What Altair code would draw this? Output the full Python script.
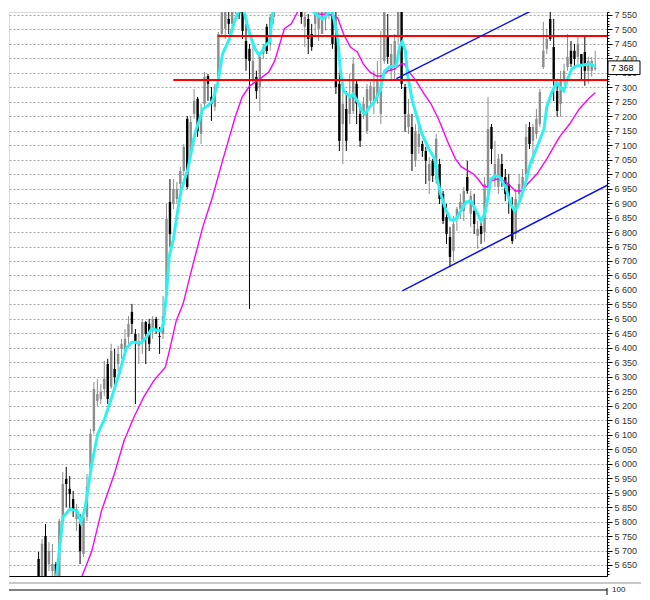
import altair as alt
import pandas as pd

# ---------------- data ----------------
opens = [5671, 5612, 5750, 5653, 5629, 5653, 5612, 5802, 5947, 5913,
         5878, 5809, 5792, 5688, 5816, 5982, 6113, 6217, 6223, 6258,
         6344, 6265, 6327, 6344, 6396, 6389, 6438, 6524, 6448, 6407,
         6424, 6489, 6483, 6465, 6500, 6441, 6448, 6586, 6904, 6897,
         6914, 6966, 7011, 7191, 7070, 7208, 7260, 7139, 7243, 7339,
         7267, 7232, 7322, 7484, 7502, 7536, 7519, 7588, 7640, 7588,
         7460, 7433, 7322, 7336, 7301, 7415, 7509, 7450, 7543, 7623,
         7692, 7657, 7743, 7674, 7692, 7605, 7640, 7509, 7536, 7484,
         7519, 7502, 7484, 7536, 7553, 7623, 7474, 7312, 7173, 7225,
         7208, 7218, 7312, 7208, 7208, 7149, 7253, 7243, 7267, 7208,
         7391, 7474, 7357, 7370, 7474, 7588, 7301, 7163, 7163, 7046,
         7094, 7104, 7080, 6977, 7046, 6983, 7035, 6932, 6852, 6783,
         6735, 6845, 6880, 6873, 6990, 6863, 6873, 6787, 6821, 6800,
         6956, 7163, 6983, 6956, 7035, 6990, 6966, 6887, 6793, 6932,
         6942, 7001, 7163, 7115, 7139, 7173, 7370, 7433, 7536, 7439,
         7287, 7243, 7322, 7370, 7426, 7426, 7405, 7415, 7422, 7357,
         7357, 7363]
highs = [5695, 5740, 5792, 5729, 5723, 5660, 5809, 5971, 5989, 5957,
         5906, 5861, 5826, 5843, 5964, 6120, 6282, 6293, 6275, 6355,
         6362, 6414, 6396, 6407, 6431, 6465, 6510, 6552, 6465, 6448,
         6500, 6493, 6500, 6510, 6507, 6472, 6579, 6897, 6983, 6983,
         6973, 7025, 7104, 7201, 7201, 7294, 7267, 7243, 7353, 7346,
         7301, 7312, 7491, 7588, 7623, 7588, 7657, 7692, 7674, 7605,
         7519, 7450, 7450, 7357, 7415, 7450, 7519, 7553, 7657, 7726,
         7743, 7778, 7761, 7726, 7726, 7692, 7674, 7571, 7553, 7519,
         7571, 7588, 7605, 7640, 7657, 7657, 7588, 7357, 7312, 7287,
         7346, 7405, 7322, 7243, 7267, 7312, 7319, 7357, 7391, 7495,
         7657, 7553, 7450, 7484, 7726, 7657, 7312, 7260, 7208, 7173,
         7173, 7115, 7094, 7059, 7053, 7139, 7053, 6942, 6897, 6818,
         6856, 6887, 6932, 6956, 7046, 6942, 6932, 6838, 6838, 6990,
         7267, 7173, 7115, 7070, 7070, 7018, 7001, 6921, 6949, 7001,
         7018, 7173, 7180, 7173, 7225, 7294, 7526, 7502, 7623, 7536,
         7329, 7357, 7381, 7484, 7460, 7450, 7474, 7415, 7474, 7405,
         7405, 7426]
lows = [5591, 5591, 5591, 5629, 5609, 5591, 5602, 5792, 5850, 5837,
        5816, 5767, 5653, 5678, 5802, 5964, 6103, 6199, 6206, 6234,
        6206, 6258, 6258, 6317, 6362, 6372, 6414, 6448, 6206, 6344,
        6379, 6344, 6389, 6431, 6448, 6379, 6431, 6569, 6749, 6880,
        6897, 6942, 6994, 6949, 7070, 7191, 7129, 7104, 7225, 7253,
        7184, 7218, 7312, 7474, 7467, 7484, 7502, 7553, 7536, 7467,
        7357, 6534, 7312, 7260, 7218, 7398, 7415, 7426, 7519, 7605,
        7588, 7640, 7623, 7640, 7571, 7560, 7519, 7439, 7415, 7426,
        7474, 7460, 7484, 7495, 7536, 7433, 7277, 7080, 7035, 7080,
        7173, 7208, 7173, 7094, 7191, 7139, 7243, 7208, 7243, 7173,
        7381, 7381, 7329, 7322, 7450, 7294, 7146, 7139, 7011, 7025,
        7070, 7059, 6966, 6932, 6973, 6966, 6897, 6828, 6759, 6679,
        6700, 6804, 6845, 6838, 6932, 6818, 6793, 6742, 6759, 6766,
        6921, 7035, 6956, 6932, 6956, 6907, 6863, 6759, 6776, 6914,
        6932, 6983, 7087, 7035, 7122, 7163, 7363, 7415, 7460, 7253,
        7198, 7198, 7312, 7357, 7370, 7363, 7381, 7322, 7305, 7312,
        7336, 7357]
closes = [5612, 5723, 5612, 5698, 5653, 5612, 5802, 5930, 5930, 5895,
          5843, 5843, 5698, 5816, 5920, 6103, 6258, 6241, 6248, 6293,
          6223, 6389, 6299, 6379, 6414, 6431, 6483, 6483, 6424, 6424,
          6489, 6448, 6414, 6500, 6465, 6438, 6510, 6845, 6793, 6949,
          6949, 7011, 7094, 6956, 7180, 7253, 7149, 7208, 7336, 7312,
          7243, 7301, 7484, 7578, 7571, 7519, 7605, 7640, 7553, 7495,
          7398, 7391, 7391, 7287, 7405, 7439, 7426, 7543, 7623, 7692,
          7657, 7743, 7674, 7692, 7605, 7657, 7543, 7543, 7467, 7439,
          7553, 7547, 7564, 7605, 7616, 7450, 7301, 7115, 7243, 7115,
          7267, 7381, 7243, 7115, 7243, 7294, 7305, 7301, 7322, 7287,
          7588, 7405, 7415, 7460, 7623, 7312, 7208, 7208, 7070, 7149,
          7139, 7080, 7046, 7035, 6994, 7122, 6914, 6838, 6793, 6714,
          6828, 6880, 6904, 6942, 6942, 6925, 6828, 6811, 6793, 6966,
          7156, 7087, 7035, 7053, 6990, 6932, 6921, 6769, 6914, 6966,
          6990, 7129, 7104, 7163, 7191, 7284, 7426, 7467, 7467, 7322,
          7218, 7322, 7357, 7405, 7381, 7398, 7450, 7381, 7357, 7391,
          7391, 7368]

# short moving average (cyan): bar position, price
fast_i = [5.1, 7.1, 9.1, 11.1, 12.2, 13.4, 15.4, 17.1, 19.1, 21.0, 23.3, 25.3, 27.0, 29.6,
          31.3, 32.7, 35.3, 36.1, 37.0, 37.8, 39.0, 40.1, 41.2, 43.2, 45.2, 46.6, 47.5, 48.9,
          50.3, 51.8, 53.2, 55.2, 56.9, 58.3, 59.4, 60.3, 61.1, 62.6, 63.7, 64.6, 65.4, 66.8,
          68.0, 70.2, 73.1, 75.9, 78.2, 80.2, 82.2, 83.6, 84.8, 86.5, 87.3, 88.2, 90.2, 91.0,
          92.2, 93.6, 94.4, 95.8, 97.3, 98.7, 100.1, 101.5, 103.5, 104.4, 105.2, 106.1, 106.7,
          108.1, 109.2, 110.9, 112.9, 114.6, 115.2, 116.3, 117.7, 119.2, 120.6, 122.0, 123.7,
          125.1, 126.3, 128.0, 129.1, 130.0, 130.8, 132.0, 133.4, 134.2, 135.1, 136.5, 137.7,
          138.5, 139.4, 140.8, 142.2, 144.2, 146.2, 147.0, 148.5, 149.9, 150.7, 151.9, 152.7,
          154.2, 155.6, 157.6, 159.3, 161.0]
fast_p = [5605, 5816, 5843, 5837, 5799, 5843, 5999, 6103, 6155, 6223, 6310, 6396, 6420, 6417,
          6438, 6465, 6458, 6483, 6586, 6717, 6776, 6863, 6942, 7018, 7139, 7191, 7225, 7236,
          7253, 7312, 7415, 7467, 7536, 7571, 7564, 7519, 7484, 7433, 7412, 7422, 7443, 7457,
          7588, 7674, 7692, 7605, 7578, 7553, 7536, 7553, 7571, 7474, 7357, 7287, 7267, 7277,
          7253, 7218, 7208, 7232, 7253, 7287, 7357, 7370, 7374, 7439, 7457, 7426, 7346,
          7253, 7208, 7139, 7087, 7053, 6990, 6932, 6880, 6842, 6842, 6870, 6904,
          6907, 6880, 6838, 6863, 6921, 6983, 6994, 6990, 6973, 6956, 6897, 6873,
          6887, 6914, 6966, 7035, 7094, 7156, 7232, 7284, 7319, 7301, 7287, 7319,
          7363, 7374, 7377, 7381, 7374]

# long moving average (magenta)
slow_i = [12.5, 15.4, 18.2, 21.9, 24.7, 27.6, 30.4, 33.3, 36.7, 38.1, 39.8, 41.8, 44.7, 47.5,
          50.3, 53.2, 56.9, 58.9, 61.1, 64.0, 66.6, 68.3, 71.1, 73.1, 75.4, 77.9, 80.8, 84.5,
          86.5, 88.2, 90.2, 92.2, 93.9, 95.8, 97.8, 99.5, 101.0, 103.0, 104.9, 105.8, 107.2,
          109.2, 111.5, 113.5, 115.8, 118.6, 120.6, 122.3, 124.3, 125.7, 127.1, 128.6, 130.0,
          130.8, 132.8, 134.8, 136.5, 137.9, 139.9, 141.4, 144.2, 147.0, 149.0, 150.7, 153.6,
          156.4, 159.3, 161.0]
slow_p = [5609, 5698, 5837, 5964, 6078, 6161, 6230, 6286, 6334, 6403, 6493, 6552, 6690, 6818,
          6921, 7046, 7198, 7267, 7305, 7329, 7353, 7391, 7502, 7519, 7571, 7571, 7553, 7550,
          7540, 7484, 7439, 7422, 7381, 7353, 7339, 7339, 7357, 7363, 7381, 7381, 7353,
          7322, 7277, 7243, 7187, 7104, 7053, 7025, 7011, 7001, 6983, 6959, 6956,
          6977, 6983, 6977, 6959, 6942, 6942, 6966, 7001, 7053, 7094, 7129, 7173,
          7225, 7263, 7281]

# horizontal red levels: start bar, price
level_start = [51.8, 39.0]
level_price = [7477, 7325]

# blue trend lines: two end points each
trend_id = ["upper", "upper", "lower", "lower"]
trend_i = [103.5, 148.5, 105.2, 164.7]
trend_p = [7330, 7600, 6597, 6963]

last_price = 7368
last_label = "7 368"

# ---------------- chart ----------------
n = len(closes)
candles = pd.DataFrame({"i": list(range(n)), "open": opens, "high": highs,
                        "low": lows, "close": closes})
fast = pd.DataFrame({"i": fast_i, "p": fast_p})
slow = pd.DataFrame({"i": slow_i, "p": slow_p})
levels = pd.DataFrame({"i0": level_start, "i1": [164.7] * len(level_start), "p": level_price})
trends = pd.DataFrame({"id": trend_id, "i": trend_i, "p": trend_p})
box = pd.DataFrame({"p": [last_price], "t": [last_label]})
one = pd.DataFrame({"k": [0]})

W, H = 598, 564
xs = alt.Scale(domain=[-7.11, 162.97], nice=False, zero=False)
ys = alt.Scale(domain=[5612, 7560], nice=False, zero=False)

x_axis = alt.Axis(orient="bottom", labels=False, ticks=False, grid=False, domain=True,
                  domainColor="black", title=None)
major = "datum.value % 50 === 0"
y_axis = alt.Axis(
    orient="right", title=None, values=list(range(5620, 7561, 10)),
    labelExpr="datum.value % 50 === 0 ? replace(format(datum.value, ','), ',', ' ') : ''",
    labelOverlap=False, labelFlush=False, labelFontSize=9, labelFont="Liberation Sans",
    labelColor="#333333", labelPadding=2,
    tickColor="black", tickWidth=1,
    tickSize={"condition": {"test": major, "value": 5}, "value": 2},
    grid=True, gridColor="#a6a6a6", gridDash=[2, 2], gridWidth=1,
    gridOpacity={"condition": {"test": major, "value": 1}, "value": 0},
    domain=True, domainColor="black",
)

X = lambda f: alt.X(f, type="quantitative", scale=xs, axis=x_axis)
Y = lambda f: alt.Y(f, type="quantitative", scale=ys, axis=y_axis)

up_col = alt.condition("datum.close >= datum.open", alt.value("#8c8c8c"), alt.value("#000000"))

wicks = alt.Chart(candles).mark_rule(clip=True, strokeWidth=1).encode(
    x=X("i"), y=Y("low"), y2="high", color=up_col)
bodies = alt.Chart(candles).mark_bar(clip=True, size=2.4).encode(
    x=X("i"), y=Y("open"), y2="close", color=up_col)
slow_line = alt.Chart(slow).mark_line(clip=True, color="#ff00ff", strokeWidth=1.4).encode(
    x=X("i"), y=Y("p"))
fast_line = alt.Chart(fast).mark_line(clip=True, color="#2ef2f2", strokeWidth=3).encode(
    x=X("i"), y=Y("p"))
red = alt.Chart(levels).mark_rule(clip=True, color="#ff0000", strokeWidth=2).encode(
    x=X("i0"), x2="i1", y=Y("p"))
blue = alt.Chart(trends).mark_line(clip=True, color="#1010e0", strokeWidth=1.5).encode(
    x=X("i"), y=Y("p"), detail="id:N")

box_rect = alt.Chart(box).mark_rect(fill="white", stroke="black", strokeWidth=1).encode(
    x=alt.value(599), x2=alt.value(631),
    y=alt.Y("p_top:Q", scale=ys, axis=y_axis), y2="p_bot:Q"
).transform_calculate(p_top="datum.p + 23", p_bot="datum.p - 24")
box_text = alt.Chart(box).mark_text(align="left", baseline="middle", fontSize=9,
                                    font="Liberation Sans", color="black").encode(
    x=alt.value(602), y=Y("p"), text="t:N")

strip_gray = alt.Chart(one).mark_rule(color="#c8c8c8", strokeWidth=2).encode(
    x=alt.value(0), x2=alt.value(632), y=alt.value(571))
strip_panel = alt.Chart(one).mark_rule(color="black", strokeWidth=1).encode(
    x=alt.value(0), x2=alt.value(598), y=alt.value(578))
strip_axis = alt.Chart(one).mark_rule(color="black", strokeWidth=1).encode(
    x=alt.value(598), y=alt.value(576), y2=alt.value(583))
strip_text = alt.Chart(pd.DataFrame({"t": ["100"]})).mark_text(
    align="left", baseline="middle", fontSize=8, font="Liberation Sans", color="#222222").encode(
    x=alt.value(603), y=alt.value(578), text="t:N")

chart = alt.layer(
    wicks, bodies, slow_line, fast_line, red, blue, box_rect, box_text,
    strip_gray, strip_panel, strip_axis, strip_text
).properties(
    width=W, height=H, padding=0, background="white"
).configure_view(stroke=None).configure(font="Liberation Sans")

chart.save("out.html", embed_options={"renderer": "svg", "actions": False})
